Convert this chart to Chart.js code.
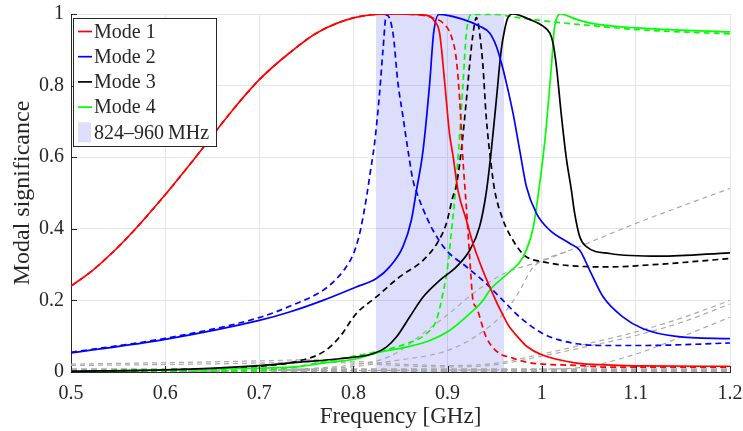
<!DOCTYPE html>
<html>
<head>
<meta charset="utf-8">
<script src="https://cdn.jsdelivr.net/npm/chart.js@4.4.1/dist/chart.umd.min.js"></script>
<style>
  html, body { margin: 0; padding: 0; background: #ffffff; }
  #wrap { width: 743px; height: 431px; }
</style>
</head>
<body>
<div id="wrap"><canvas id="chart" width="743" height="431"></canvas></div>
<script>
// ---- axis ticks ----
const xTickValues = [0.5, 0.6, 0.7, 0.8, 0.9, 1.0, 1.1, 1.2];
const xTickLabels = ['0.5', '0.6', '0.7', '0.8', '0.9', '1', '1.1', '1.2'];
const yTickValues = [0, 0.2, 0.4, 0.6, 0.8, 1];
const yTickLabels = ['0', '0.2', '0.4', '0.6', '0.8', '1'];

// ---- frequency band of interest (GHz) ----
const bandRange = [0.824, 0.960];
const bandLabel = '824–960\u2009MHz';

// ---- characteristic modes: frequency (GHz) and modal significance ----
const mode1Freq = [0.5, 0.523, 0.559, 0.6, 0.63, 0.672, 0.70, 0.732, 0.761, 0.80, 0.838, 0.863, 0.881, 0.886, 0.8915, 0.897, 0.902, 0.906, 0.911, 0.92, 0.927, 0.9447, 0.9625, 0.966, 0.9766, 0.984, 1.0, 1.037, 1.07, 1.108, 1.2];
const mode1Sig  = [0.24, 0.284, 0.373, 0.495, 0.592, 0.7325, 0.8165, 0.891, 0.947, 0.989, 1.0, 0.999, 0.994, 0.98, 0.947, 0.807, 0.667, 0.60, 0.508, 0.424, 0.359, 0.2376, 0.14, 0.125, 0.092, 0.072, 0.048, 0.025, 0.02, 0.017, 0.016];

const mode1bFreq = [0.5, 0.523, 0.559, 0.6, 0.63, 0.672, 0.70, 0.732, 0.761, 0.80, 0.838, 0.863, 0.8845, 0.897, 0.904, 0.9093, 0.9129, 0.9157, 0.918, 0.92, 0.9235, 0.927, 0.9306, 0.941, 0.9554, 0.966, 0.9837, 1.04, 1.072, 1.2];
const mode1bSig  = [0.24, 0.284, 0.373, 0.495, 0.592, 0.7325, 0.8165, 0.891, 0.947, 0.989, 1.0, 0.999, 0.989, 0.97, 0.938, 0.873, 0.76, 0.62, 0.53, 0.46, 0.32, 0.2, 0.18, 0.0975, 0.051, 0.0415, 0.0275, 0.018, 0.0135, 0.0135];

const mode2Freq = [0.5, 0.6, 0.7, 0.7322, 0.7676, 0.803, 0.8243, 0.8385, 0.8526, 0.8615, 0.8668, 0.874, 0.881, 0.8852, 0.891, 0.9164, 0.934, 0.9447, 0.9518, 0.9572, 0.9625, 0.9695, 0.9766, 0.9837, 0.9944, 1.0085, 1.0298, 1.0404, 1.051, 1.0652, 1.0864, 1.1077, 1.143, 1.2];
const mode2Sig  = [0.053, 0.091, 0.144, 0.1675, 0.2, 0.2376, 0.261, 0.2936, 0.35, 0.424, 0.505, 0.62, 0.807, 0.947, 0.999, 0.985, 0.966, 0.947, 0.91, 0.863, 0.807, 0.723, 0.62, 0.518, 0.443, 0.396, 0.359, 0.34, 0.284, 0.21, 0.1535, 0.121, 0.0994, 0.093];

const mode2bFreq = [0.5, 0.6, 0.7, 0.7322, 0.7676, 0.78, 0.79, 0.80, 0.806, 0.81, 0.814, 0.818, 0.8225, 0.8278, 0.8314, 0.835, 0.842, 0.8473, 0.8526, 0.8579, 0.8632, 0.8668, 0.874, 0.8845, 0.8987, 0.92, 0.941, 0.9589, 0.9766, 1.0014, 1.037, 1.072, 1.1077, 1.2];
const mode2bSig  = [0.055, 0.094, 0.152, 0.1835, 0.228, 0.255, 0.285, 0.33, 0.38, 0.43, 0.49, 0.56, 0.64, 0.78, 0.9, 0.998, 0.947, 0.807, 0.714, 0.62, 0.536, 0.505, 0.455, 0.396, 0.34, 0.294, 0.247, 0.2, 0.1535, 0.107, 0.079, 0.074, 0.074, 0.081];

const mode3Freq = [0.5, 0.6, 0.7, 0.7428, 0.7853, 0.8207, 0.835, 0.8456, 0.8597, 0.874, 0.8916, 0.9093, 0.9235, 0.934, 0.941, 0.9465, 0.9518, 0.957, 0.9607, 0.964, 0.9695, 0.987, 1.0014, 1.0085, 1.012, 1.0156, 1.021, 1.026, 1.0315, 1.035, 1.0404, 1.0475, 1.0722, 1.1254, 1.2];
const mode3Sig  = [0.002, 0.006, 0.018, 0.0275, 0.037, 0.051, 0.0695, 0.0975, 0.1535, 0.2096, 0.256, 0.2936, 0.34, 0.406, 0.50, 0.62, 0.76, 0.90, 0.957, 0.989, 1.0, 0.985, 0.966, 0.947, 0.919, 0.854, 0.714, 0.6, 0.508, 0.443, 0.378, 0.35, 0.331, 0.3235, 0.333];

const mode3bFreq = [0.5, 0.6, 0.7, 0.74, 0.7676, 0.7853, 0.803, 0.8243, 0.849, 0.874, 0.8898, 0.8987, 0.9057, 0.9093, 0.9146, 0.92, 0.925, 0.9288, 0.9306, 0.934, 0.9376, 0.941, 0.9465, 0.95, 0.959, 0.9695, 0.9766, 0.9837, 1.0014, 1.037, 1.072, 1.125, 1.2];
const mode3bSig  = [0.002, 0.006, 0.016, 0.03, 0.0555, 0.0975, 0.163, 0.2096, 0.2656, 0.312, 0.3635, 0.415, 0.49, 0.52, 0.62, 0.76, 0.90, 0.975, 0.99, 0.947, 0.854, 0.714, 0.574, 0.508, 0.424, 0.368, 0.34, 0.3216, 0.3076, 0.2955, 0.2936, 0.301, 0.317];

const mode4Freq = [0.5, 0.6, 0.7, 0.7428, 0.7676, 0.803, 0.8278, 0.856, 0.881, 0.902, 0.9235, 0.9377, 0.9447, 0.966, 0.98, 0.9907, 0.996, 1.0014, 1.005, 1.0103, 1.0138, 1.021, 1.0244, 1.037, 1.0545, 1.1006, 1.2];
const mode4Sig  = [0.002, 0.006, 0.011, 0.015, 0.025, 0.037, 0.0555, 0.0695, 0.088, 0.116, 0.163, 0.2, 0.228, 0.28, 0.32, 0.40, 0.49, 0.60, 0.69, 0.854, 0.966, 1.0, 0.998, 0.985, 0.973, 0.961, 0.95];

const mode4bFreq = [0.5, 0.6, 0.7, 0.74, 0.78, 0.8278, 0.856, 0.8775, 0.888, 0.8951, 0.9004, 0.904, 0.9075, 0.9105, 0.913, 0.9164, 0.92, 0.9253, 0.9518, 0.9695, 1.005, 1.0404, 1.1006, 1.2];
const mode4bSig  = [0.0, 0.001, 0.005, 0.015, 0.035, 0.058, 0.079, 0.107, 0.144, 0.22, 0.30, 0.39, 0.48, 0.58, 0.667, 0.807, 0.947, 0.999, 0.999, 0.992, 0.98, 0.9706, 0.9566, 0.9445];

// ---- higher-order modes (grey, dashed) ----
const other1Freq = [0.5, 0.6, 0.7, 0.75, 0.8, 0.85, 0.9, 0.95, 1.0, 1.05, 1.1, 1.15, 1.2];
const other1Sig  = [0.022, 0.026, 0.031, 0.034, 0.03, 0.022, 0.018, 0.024, 0.05, 0.08, 0.112, 0.152, 0.2];
const other2Freq = [0.5, 0.6, 0.7, 0.75, 0.8, 0.85, 0.9, 0.95, 1.0, 1.05, 1.1, 1.15, 1.2];
const other2Sig  = [0.018, 0.021, 0.025, 0.028, 0.025, 0.018, 0.014, 0.02, 0.044, 0.072, 0.102, 0.14, 0.19];
const other3Freq = [0.5, 0.7, 0.9, 1.0, 1.04, 1.1, 1.15, 1.2];
const other3Sig  = [0.004, 0.004, 0.005, 0.008, 0.012, 0.05, 0.1, 0.153];
const other4Freq = [0.5, 0.7, 0.8, 0.84, 0.9, 0.93, 0.96, 0.975, 0.99, 1.0, 1.03, 1.1, 1.2];
const other4Sig  = [0.0, 0.004, 0.015, 0.03, 0.06, 0.1, 0.165, 0.22, 0.29, 0.31, 0.34, 0.415, 0.513];
const other5Freq = [0.5, 0.7, 0.8, 0.83, 0.85, 0.87, 0.9, 0.93, 0.96, 1.0, 1.03];
const other5Sig  = [0.0, 0.005, 0.02, 0.035, 0.06, 0.1, 0.16, 0.225, 0.275, 0.31, 0.34];
const other6Freq = [0.5, 1.2];
const other6Sig  = [0.004, 0.004];

const FONT = "'Liberation Serif', 'Times New Roman', serif";
const INK = '#262626';
const GREY = '#aaaaaa';
const BAND_FILL = 'rgba(0, 0, 235, 0.135)';

Chart.defaults.font.family = FONT;
Chart.defaults.color = INK;

function points(f, v) { return f.map((x, i) => ({ x: x, y: v[i] })); }

function modeLine(label, f, v, color, dashed) {
  return {
    label: label,
    data: points(f, v),
    borderColor: color,
    borderWidth: 1.7,
    borderDash: dashed ? [6, 4] : [],
    pointRadius: 0,
    fill: false,
    cubicInterpolationMode: 'monotone',
    inLegend: !dashed
  };
}
function greyLine(f, v, width, dash) {
  return {
    label: '',
    data: points(f, v),
    borderColor: GREY,
    borderWidth: width,
    borderDash: dash,
    pointRadius: 0,
    fill: false,
    cubicInterpolationMode: 'monotone',
    inLegend: false
  };
}

const datasets = [
  modeLine('Mode 1', mode1Freq, mode1Sig, '#ff0000', false),
  modeLine('Mode 2', mode2Freq, mode2Sig, '#0000ff', false),
  modeLine('Mode 3', mode3Freq, mode3Sig, '#000000', false),
  modeLine('Mode 4', mode4Freq, mode4Sig, '#00ff00', false),
  modeLine('Mode 1 (dashed)', mode1bFreq, mode1bSig, '#ff0000', true),
  modeLine('Mode 2 (dashed)', mode2bFreq, mode2bSig, '#0000ff', true),
  modeLine('Mode 3 (dashed)', mode3bFreq, mode3bSig, '#000000', true),
  modeLine('Mode 4 (dashed)', mode4bFreq, mode4bSig, '#00ff00', true),
  greyLine(other1Freq, other1Sig, 1.2, [5, 4]),
  greyLine(other2Freq, other2Sig, 1.2, [5, 4]),
  greyLine(other3Freq, other3Sig, 1.2, [5, 4]),
  greyLine(other4Freq, other4Sig, 1.2, [5, 4]),
  greyLine(other5Freq, other5Sig, 1.2, [5, 4]),
  greyLine(other6Freq, other6Sig, 4.5, [6, 4])
];

// fixed plot frame: no automatic padding for overhanging tick labels
function fixFrame(s, size) {
  if (s.isHorizontal()) s.height = size; else s.width = size;
  s.paddingLeft = 0; s.paddingRight = 0; s.paddingTop = 0; s.paddingBottom = 0;
}

// band shading, inward tick marks, axis titles and the legend box
const decorations = {
  id: 'decorations',
  beforeDatasetsDraw(chart) {
    const { ctx, chartArea: a, scales: { x } } = chart;
    const x0 = x.getPixelForValue(bandRange[0]);
    const x1 = x.getPixelForValue(bandRange[1]);
    ctx.save();
    ctx.fillStyle = BAND_FILL;
    ctx.fillRect(x0, a.top, x1 - x0, a.bottom - a.top);
    ctx.restore();
  },
  afterDraw(chart) {
    const { ctx, chartArea: a, scales: { x, y } } = chart;
    ctx.save();
    // inward ticks
    ctx.strokeStyle = INK;
    ctx.lineWidth = 1;
    ctx.beginPath();
    xTickValues.forEach(v => {
      const px = Math.round(x.getPixelForValue(v)) + 0.5;
      ctx.moveTo(px, a.bottom); ctx.lineTo(px, a.bottom - 6);
    });
    yTickValues.forEach(v => {
      const py = Math.round(y.getPixelForValue(v)) + 0.5;
      ctx.moveTo(a.left, py); ctx.lineTo(a.left + 6, py);
    });
    ctx.stroke();

    // axis titles
    ctx.fillStyle = INK;
    ctx.textAlign = 'center';
    ctx.textBaseline = 'middle';
    ctx.font = '23px ' + FONT;
    ctx.fillText('Frequency [GHz]', (a.left + a.right) / 2, 417);
    ctx.save();
    ctx.translate(23, (a.top + a.bottom) / 2);
    ctx.rotate(-Math.PI / 2);
    ctx.font = '24px ' + FONT;
    ctx.fillText('Modal significance', 0, 0);
    ctx.restore();

    // legend
    const lx = a.left + 2, ly = a.top + 4, lw = 143, lh = 128;
    ctx.fillStyle = '#ffffff';
    ctx.fillRect(lx, ly, lw, lh);
    ctx.strokeStyle = INK;
    ctx.lineWidth = 1;
    ctx.strokeRect(Math.round(lx) + 0.5, Math.round(ly) + 0.5, lw, lh);
    const entries = chart.data.datasets.filter(d => d.inLegend);
    ctx.font = '20px ' + FONT;
    ctx.textAlign = 'left';
    ctx.textBaseline = 'middle';
    const rowY = i => ly + 13.5 + i * 25.2;
    entries.forEach((d, i) => {
      const cy = rowY(i);
      ctx.strokeStyle = d.borderColor;
      ctx.lineWidth = 1.7;
      ctx.beginPath();
      ctx.moveTo(lx + 5, cy); ctx.lineTo(lx + 19, cy);
      ctx.stroke();
      ctx.fillStyle = INK;
      ctx.fillText(d.label, lx + 21, cy + 1);
    });
    const by = rowY(entries.length);
    ctx.fillStyle = BAND_FILL;
    ctx.fillRect(lx + 5, by - 10, 13, 20);
    ctx.fillStyle = INK;
    ctx.fillText(bandLabel, lx + 21, by + 1);
    ctx.restore();
  }
};

new Chart(document.getElementById('chart'), {
  type: 'line',
  data: { datasets: datasets },
  plugins: [decorations],
  options: {
    responsive: false,
    devicePixelRatio: 1,
    animation: false,
    layout: { padding: { top: 14, right: 13, left: 0, bottom: 0 } },
    plugins: { legend: { display: false }, tooltip: { enabled: false } },
    scales: {
      x: {
        type: 'linear',
        min: 0.5, max: 1.2,
        afterBuildTicks: s => { s.ticks = xTickValues.map(v => ({ value: v })); },
        afterFit: s => fixFrame(s, 59),
        ticks: {
          callback: (v, i) => xTickLabels[i],
          font: { family: FONT, size: 20 },
          color: INK,
          padding: 10,
          maxRotation: 0,
          autoSkip: false
        },
        grid: { color: '#e6e6e6', lineWidth: 1, drawTicks: false },
        border: { color: INK, width: 1 }
      },
      y: {
        type: 'linear',
        min: 0, max: 1,
        afterBuildTicks: s => { s.ticks = yTickValues.map(v => ({ value: v })); },
        afterFit: s => fixFrame(s, 71),
        ticks: {
          callback: (v, i) => yTickLabels[i],
          font: { family: FONT, size: 20 },
          color: INK,
          padding: 7,
          autoSkip: false
        },
        grid: { color: '#e6e6e6', lineWidth: 1, drawTicks: false },
        border: { color: INK, width: 1 }
      }
    }
  }
});
</script>
</body>
</html>
